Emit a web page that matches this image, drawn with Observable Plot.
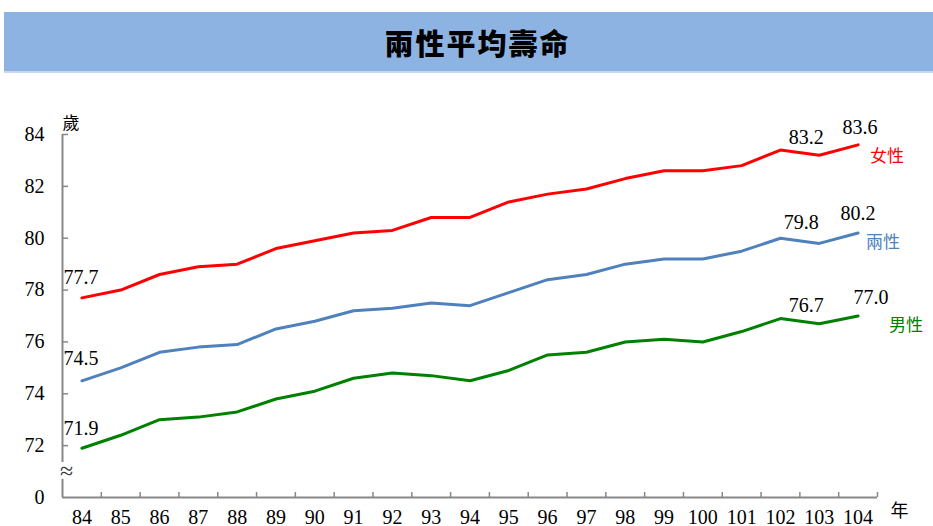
<!DOCTYPE html>
<html><head><meta charset="utf-8">
<script src="https://cdn.jsdelivr.net/npm/d3@7"></script>
<script src="https://cdn.jsdelivr.net/npm/@observablehq/plot@0.6"></script>
<style>
body{margin:0;background:#fff;width:933px;height:526px;overflow:hidden;position:relative}
#band{position:absolute;left:4px;top:12px;width:929px;height:61px;background:#8DB3E2;border-bottom:2px solid #C6D9F1;display:flex;align-items:center;justify-content:center;font-family:"Noto Sans CJK TC";font-weight:900;font-size:29px;letter-spacing:2px;color:#000;padding-left:18px;box-sizing:border-box}
#chart{position:absolute;left:0;top:80px}
</style></head><body>
<div id="band">兩性平均壽命</div>
<div id="chart"></div>
<script>
const years = [84,85,86,87,88,89,90,91,92,93,94,95,96,97,98,99,100,101,102,103,104];
const female = [77.7,78.0,78.6,78.9,79.0,79.6,79.9,80.2,80.3,80.8,80.8,81.4,81.7,81.9,82.3,82.6,82.6,82.8,83.4,83.2,83.6];
const both   = [74.5,75.0,75.6,75.8,75.9,76.5,76.8,77.2,77.3,77.5,77.4,77.9,78.4,78.6,79.0,79.2,79.2,79.5,80.0,79.8,80.2];
const male   = [71.9,72.4,73.0,73.1,73.3,73.8,74.1,74.6,74.8,74.7,74.5,74.9,75.5,75.6,76.0,76.1,76.0,76.4,76.9,76.7,77.0];
const seriesNames = ["女性","兩性","男性"];
const seriesColors = ["#FF0000","#4F81BD","#008000"];
const yTicks = [70,72,74,76,78,80,82,84];
const yUnit = "歲";
const xUnit = "年";

const seriesValues = [female, both, male];
const rows = seriesNames.flatMap((name, s) => years.map((yr, i) => ({name, year: yr, value: seriesValues[s][i]})));
const pick = (s, i) => ({name: seriesNames[s], year: years[i], value: seriesValues[s][i]});
const n = years.length;
const boundaries = years.map(y => y - 0.5).concat([years[n-1] + 0.5]);

const serif = "Liberation Serif, Times New Roman, serif";
const cjk = "Noto Sans CJK TC, sans-serif";
const axisColor = "#888888";

const startLabel = (s, dy) => Plot.text([pick(s, 0)], {x: "year", y: "value", text: d => d.value.toFixed(1), dx: -1, dy, fontSize: 20, fontFamily: serif, fill: "#000"});
const endLabel = (s, i, dx, dy) => Plot.text([pick(s, i)], {x: "year", y: "value", text: d => d.value.toFixed(1), dx, dy, fontSize: 20, fontFamily: serif, fill: "#000"});
const nameLabel = (s, dx, dy) => Plot.text([pick(s, n-1)], {x: "year", y: "value", text: "name", dx, dy, fontSize: 17, fontFamily: cjk, fill: seriesColors[s], ariaLabel: "series-name"});

const plot = Plot.plot({
  width: 933,
  height: 446,
  marginLeft: 62,
  marginRight: 56,
  marginTop: 54,
  marginBottom: 29,
  style: {background: "transparent", overflow: "visible"},
  x: {type: "linear", domain: [years[0] - 0.5, years[n-1] + 0.5], axis: null},
  y: {domain: [70, 84], axis: null},
  color: {domain: seriesNames, range: seriesColors},
  marks: [
    Plot.axisY(yTicks, {label: null, tickSize: 0, tickPadding: 18, fontSize: 20, fontFamily: serif, fill: "#000", tickFormat: d => d === 70 ? "0" : String(d)}),
    Plot.axisX(years, {label: null, tickSize: 0, tickPadding: 12, fontSize: 20, fontFamily: serif, fill: "#000", tickFormat: d => String(d)}),
    Plot.ruleX([boundaries[0]], {y1: 70, y2: 70.7, stroke: axisColor, strokeWidth: 2}),
    Plot.ruleX([boundaries[0]], {y1: 71.35, y2: 84, stroke: axisColor, strokeWidth: 2}),
    Plot.ruleY([70], {stroke: axisColor, strokeWidth: 2}),
    Plot.tickY(yTicks.slice(1), {stroke: axisColor, strokeWidth: 1.5, insetRight: 933 - 62 - 56 - 6}),
    Plot.tickX(boundaries.slice(1), {stroke: axisColor, strokeWidth: 1.5, insetTop: 446 - 54 - 29 - 5}),
    Plot.text(["≈"], {frameAnchor: "left", y: () => 71.0, dx: 4, textAnchor: "middle", fontSize: 24, fontFamily: serif, fill: "#333"}),
    Plot.text([yUnit], {frameAnchor: "top-left", dx: 0, dy: -18, fontSize: 17, fontFamily: cjk, fill: "#000"}),
    Plot.text([xUnit], {frameAnchor: "bottom-right", dx: 31, dy: 19, fontSize: 18, fontFamily: cjk, fill: "#000"}),
    Plot.line(rows, {x: "year", y: "value", z: "name", stroke: "name", strokeWidth: 3, strokeLinejoin: "round", strokeLinecap: "round"}),
    startLabel(0, -20), startLabel(1, -22), startLabel(2, -20),
    endLabel(0, n-2, -13, -18), endLabel(0, n-1, 2, -17),
    endLabel(1, n-2, -18, -21), endLabel(1, n-1, 0, -19),
    endLabel(2, n-2, -13, -18), endLabel(2, n-1, 13, -18),
    nameLabel(0, 29, 12), nameLabel(1, 25, 10), nameLabel(2, 48, 10)
  ]
});
document.getElementById("chart").appendChild(plot);
d3.select(plot).selectAll("g[aria-label='series-name'] text").style("letter-spacing", "5px");
</script>
</body></html>
